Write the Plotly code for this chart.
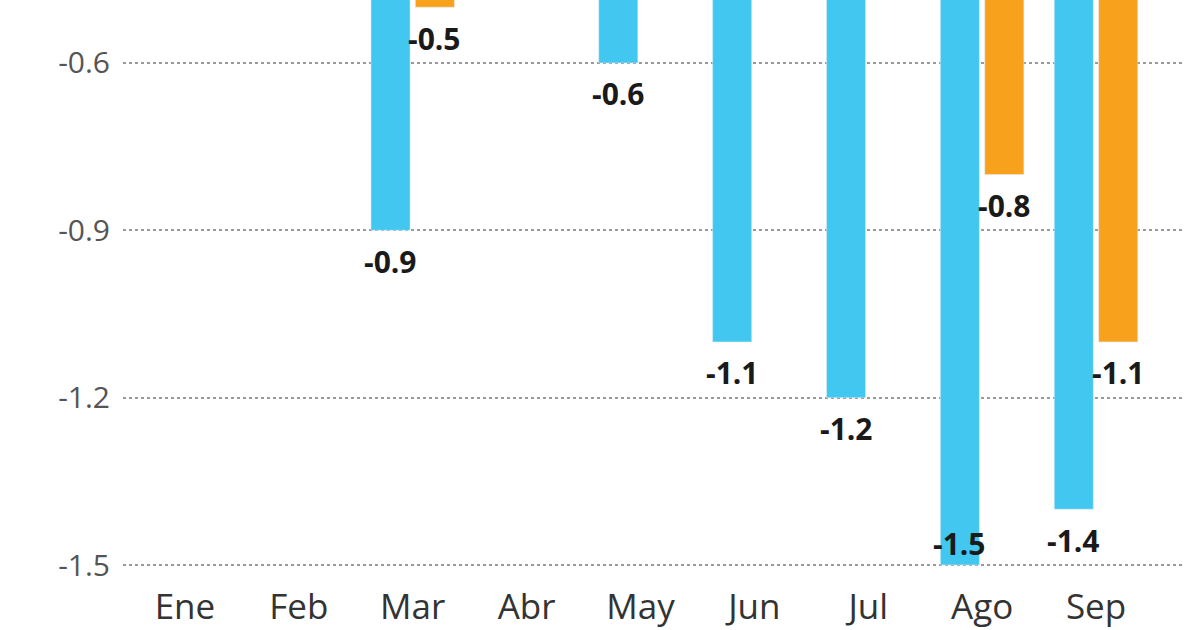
import plotly.graph_objects as go

months = ["Ene", "Feb", "Mar", "Abr", "May", "Jun", "Jul", "Ago", "Sep"]
# Values above about -0.49 are cut off at the top of the picture (estimated)
serie_azul = [-0.3, -0.4, -0.9, -0.4, -0.6, -1.1, -1.2, -1.5, -1.4]
serie_naranja = [-0.2, -0.3, -0.5, -0.3, -0.4, -0.4, -0.4, -0.8, -1.1]
y_ticks = [-0.6, -0.9, -1.2, -1.5]

AZUL = "#42C8F0"
NARANJA = "#F7A11C"
FONT = "Open Sans"

W, H = 1200, 630
M = dict(l=123, r=17, t=0, b=40)
Y_RANGE = [-1.5448, -0.4871]
X_RANGE = [-0.544, 8.764]
BARGAP = 0.22

fig = go.Figure()
fig.add_trace(go.Bar(x=months, y=serie_azul, marker_color=AZUL, name="azul", hoverinfo="skip"))
fig.add_trace(go.Bar(x=months, y=serie_naranja, marker_color=NARANJA, name="naranja", hoverinfo="skip"))

plot_h = H - M["t"] - M["b"]
px_per_unit = plot_h / (Y_RANGE[1] - Y_RANGE[0])
slot = (1 - BARGAP) / 2
label_gap = 31  # px below the bar end (label centre)

for k, serie in enumerate([serie_azul, serie_naranja]):
    off = (k - 0.5) * slot
    for i, v in enumerate(serie):
        below = v - label_gap / px_per_unit
        if below < Y_RANGE[0] + 12 / px_per_unit:
            shift = 22   # not enough room below: put label just inside the bar end
        else:
            shift = -label_gap
        centre = v + shift / px_per_unit
        if centre > Y_RANGE[1]:
            continue
        fig.add_annotation(
            x=i + off, y=v, xref="x", yref="y",
            text=f"{v:.1f}", showarrow=False,
            yanchor="middle", yshift=shift,
            font=dict(family=FONT, size=30, color="#1a1a1a", weight="bold"),
        )

fig.update_layout(
    width=W, height=H, margin=M,
    paper_bgcolor="white", plot_bgcolor="white",
    barmode="group", bargap=BARGAP, bargroupgap=0.12,
    showlegend=False,
    font=dict(family=FONT),
)
fig.update_xaxes(
    type="category", range=X_RANGE, showgrid=False, zeroline=False, showline=False,
    automargin=False, ticks="", ticklabelstandoff=-7,
    tickfont=dict(family=FONT, size=35, color="#333333"),
)
fig.update_yaxes(
    range=Y_RANGE, tickvals=y_ticks, ticktext=[f"{t:.1f}" for t in y_ticks],
    automargin=False,
    showgrid=True, gridcolor="#9a9a9a", gridwidth=2, griddash="dot",
    zeroline=False, showline=False,
    ticks="outside", ticklen=6, tickcolor="rgba(0,0,0,0)",
    tickfont=dict(family=FONT, size=30, color="#555555"),
)

fig.write_html("out.html", config={"displayModeBar": False},
               post_script="document.body.style.margin='0';")
